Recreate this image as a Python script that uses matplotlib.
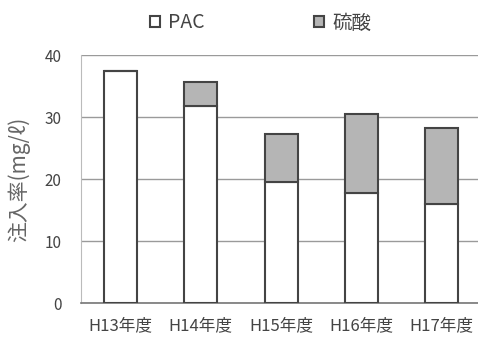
import matplotlib.pyplot as plt
import numpy as np

plt.rcParams['font.family'] = ['Noto Sans CJK JP', 'DejaVu Sans']

years = ['H13年度', 'H14年度', 'H15年度', 'H16年度', 'H17年度']
pac = [37.4, 31.8, 19.5, 17.7, 16.0]
sulfuric = [0.0, 3.8, 7.8, 12.8, 12.2]

fig = plt.figure(figsize=(4.78, 3.38), dpi=100)
ax = fig.add_axes([81 / 478, 35 / 338, 1 - 81 / 478, (303 - 55) / 338])

x = np.arange(len(years))
w = 0.41
ax.bar(x, pac, w, color='white', edgecolor='#444444', linewidth=1.5, label='PAC', zorder=3)
ax.bar(x, sulfuric, w, bottom=pac, color='#b5b5b5', edgecolor='#444444', linewidth=1.5,
       label='硫酸', zorder=3)

ax.set_xlim(-0.49, 4.45)
ax.set_ylim(0, 40)
ax.set_yticks([0, 10, 20, 30, 40])
ax.yaxis.grid(True, color='#9a9a9a', linewidth=1)
ax.set_axisbelow(True)
ax.tick_params(length=0, colors='#444444')
ax.tick_params(axis='x', pad=10, labelsize=12)
ax.tick_params(axis='y', pad=14, labelsize=11)
ax.set_xticks(x)
ax.set_xticklabels(years)

for s in ['top', 'right']:
    ax.spines[s].set_visible(False)
ax.spines['left'].set_color('#bbbbbb')
ax.spines['bottom'].set_color('#777777')
ax.spines['bottom'].set_linewidth(1.2)

ax.set_ylabel('注入率(mg/ℓ)', fontsize=15, color='#666666', labelpad=10)

fig.legend(loc='upper center', bbox_to_anchor=(0.545, 1.015), ncol=2, frameon=False,
           fontsize=14, handlelength=0.55, handleheight=0.55, columnspacing=5.6,
           handletextpad=0.4, labelcolor='#444444')

fig.savefig('out.png', dpi=100)
